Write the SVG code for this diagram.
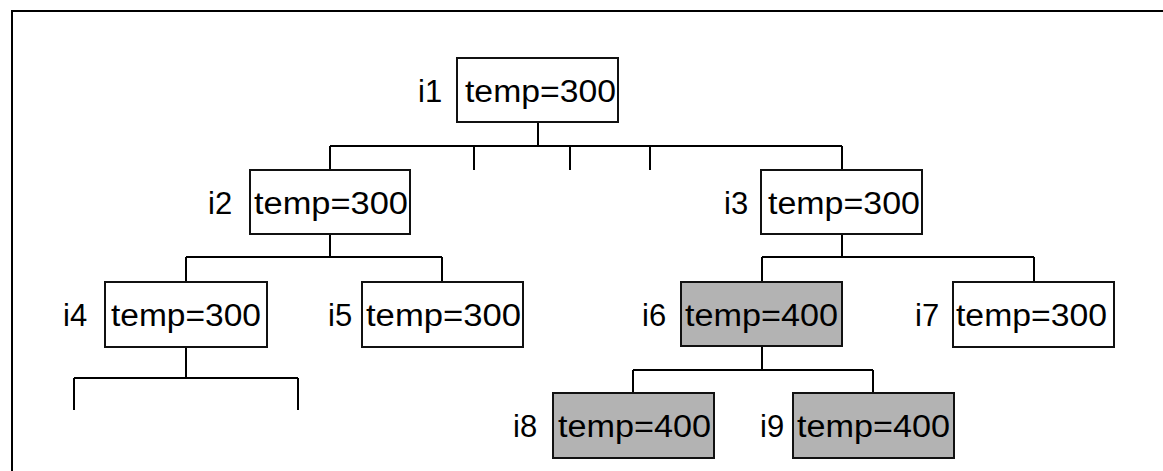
<svg xmlns="http://www.w3.org/2000/svg" width="1163" height="471" viewBox="0 0 1163 471">
<style>
.box{fill:#fff;stroke:#111;stroke-width:2}
.hot{fill:#b3b3b3;stroke:#111;stroke-width:2}
.t{font-family:"Liberation Sans",Arial,sans-serif;font-size:31px;fill:#000}
.ln{stroke:#000;stroke-width:2;fill:none}
</style>
<rect width="1163" height="471" fill="#fff"/>
<path class="ln" d="M1163 11 H12 V471"/>
<g id="connectors">
<path class="ln" d="M538 122 V146 M330 146 H842 M330 146 V170 M842 146 V170 M474 146 V170 M570 146 V170 M650 146 V170"/>
<path class="ln" d="M330 234 V257 M186 257 H442 M186 257 V282 M442 257 V282"/>
<path class="ln" d="M842 234 V257 M762 257 H1034 M762 257 V282 M1034 257 V282"/>
<path class="ln" d="M186 347 V378 M74 378 H298 M74 378 V410 M298 378 V410"/>
<path class="ln" d="M762 346 V370 M633 370 H873 M633 370 V393 M873 370 V393"/>
</g>
<g id="i1"><rect class="box" x="457" y="58" width="161" height="64"/><text class="t" x="418" y="102">i1</text><text class="t" x="465" y="102" textLength="151" lengthAdjust="spacingAndGlyphs">temp=300</text></g>
<g id="i2"><rect class="box" x="250" y="170" width="160" height="64"/><text class="t" x="208" y="214">i2</text><text class="t" x="254" y="214" textLength="154" lengthAdjust="spacingAndGlyphs">temp=300</text></g>
<g id="i3"><rect class="box" x="761" y="170" width="161" height="64"/><text class="t" x="724" y="214">i3</text><text class="t" x="768" y="214" textLength="152" lengthAdjust="spacingAndGlyphs">temp=300</text></g>
<g id="i4"><rect class="box" x="105" y="282" width="162" height="65"/><text class="t" x="63" y="326">i4</text><text class="t" x="111" y="326" textLength="150" lengthAdjust="spacingAndGlyphs">temp=300</text></g>
<g id="i5"><rect class="box" x="362" y="282" width="161" height="65"/><text class="t" x="328" y="326">i5</text><text class="t" x="366" y="326" textLength="155" lengthAdjust="spacingAndGlyphs">temp=300</text></g>
<g id="i6"><rect class="hot" x="681" y="282" width="161" height="64"/><text class="t" x="642" y="326">i6</text><text class="t" x="685" y="326" textLength="153" lengthAdjust="spacingAndGlyphs">temp=400</text></g>
<g id="i7"><rect class="box" x="953" y="282" width="161" height="65"/><text class="t" x="915" y="326">i7</text><text class="t" x="956" y="326" textLength="151" lengthAdjust="spacingAndGlyphs">temp=300</text></g>
<g id="i8"><rect class="hot" x="553" y="393" width="161" height="65"/><text class="t" x="513" y="437">i8</text><text class="t" x="558" y="437" textLength="153" lengthAdjust="spacingAndGlyphs">temp=400</text></g>
<g id="i9"><rect class="hot" x="793" y="393" width="161" height="65"/><text class="t" x="760" y="437">i9</text><text class="t" x="797" y="437" textLength="153" lengthAdjust="spacingAndGlyphs">temp=400</text></g>
</svg>
